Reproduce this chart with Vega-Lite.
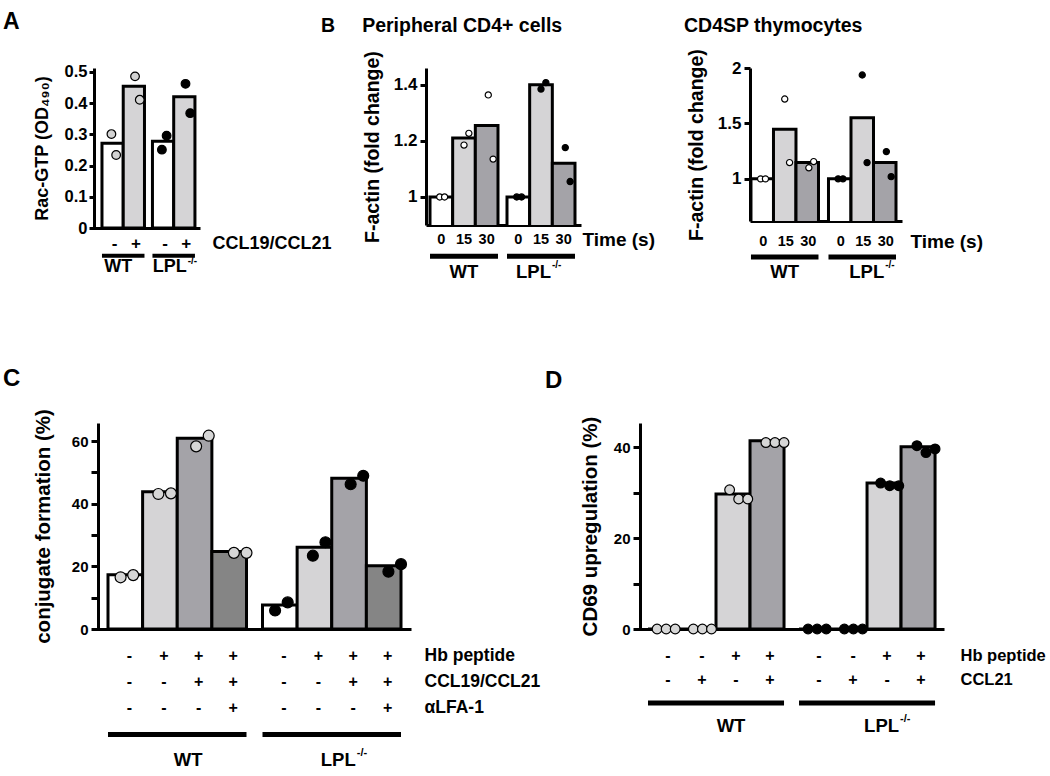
{
  "$schema": "https://vega.github.io/schema/vega-lite/v6.json",
  "background": "white",
  "padding": {"left": 3, "top": 10, "right": 0, "bottom": 0},
  "config": {
    "view": {"stroke": null},
    "font": "Liberation Sans",
    "axis": {"domainColor": "black", "domainWidth": 3, "tickColor": "black", "tickWidth": 3, "labelColor": "black", "labelFont": "Liberation Sans", "labelFontWeight": "bold", "titleFont": "Liberation Sans", "titleFontWeight": "bold", "titleColor": "black", "grid": false},
    "text": {"font": "Liberation Sans", "fontWeight": "bold", "color": "black"},
    "title": {"font": "Liberation Sans", "fontWeight": "bold", "color": "black", "anchor": "start", "frame": "group"}
  },
  "datasets": {
    "A_bars": [
      {"g": "WT", "c": "-", "v": 0.272}, {"g": "WT", "c": "+", "v": 0.454},
      {"g": "LPL", "c": "-", "v": 0.278}, {"g": "LPL", "c": "+", "v": 0.421}
    ],
    "A_pts": [
      {"g": "WT", "k": "-1", "v": 0.301}, {"g": "WT", "k": "-2", "v": 0.234},
      {"g": "WT", "k": "+1", "v": 0.486}, {"g": "WT", "k": "+2", "v": 0.411},
      {"g": "LPL", "k": "-1", "v": 0.251}, {"g": "LPL", "k": "-2", "v": 0.296},
      {"g": "LPL", "k": "+1", "v": 0.462}, {"g": "LPL", "k": "+2", "v": 0.368}
    ],
    "A_ann": [
      {"g": "WT", "c": "-", "row": "CCL19/CCL21", "t": "-"}, {"g": "WT", "c": "+", "row": "CCL19/CCL21", "t": "+"},
      {"g": "LPL", "c": "-", "row": "CCL19/CCL21", "t": "-"}, {"g": "LPL", "c": "+", "row": "CCL19/CCL21", "t": "+"},
      {"g": "WT", "row": "line"}, {"g": "LPL", "row": "line"},
      {"g": "WT", "row": "label", "t": "WT"}, {"g": "LPL", "row": "label", "t": "LPL"}
    ],
    "Bl_bars": [
      {"g": "WT", "c": "0", "v": 1.0}, {"g": "WT", "c": "15", "v": 1.21}, {"g": "WT", "c": "30", "v": 1.255},
      {"g": "LPL", "c": "0", "v": 1.0}, {"g": "LPL", "c": "15", "v": 1.40}, {"g": "LPL", "c": "30", "v": 1.12}
    ],
    "Bl_pts": [
      {"g": "WT", "k": "0_1", "v": 1.0}, {"g": "WT", "k": "0_2", "v": 1.0},
      {"g": "WT", "k": "15_1", "v": 1.185}, {"g": "WT", "k": "15_2", "v": 1.227},
      {"g": "WT", "k": "30_1", "v": 1.364}, {"g": "WT", "k": "30_2", "v": 1.135},
      {"g": "LPL", "k": "0_1", "v": 1.0}, {"g": "LPL", "k": "0_2", "v": 1.0},
      {"g": "LPL", "k": "15_1", "v": 1.385}, {"g": "LPL", "k": "15_2", "v": 1.408},
      {"g": "LPL", "k": "30_1", "v": 1.176}, {"g": "LPL", "k": "30_2", "v": 1.055}
    ],
    "Br_bars": [
      {"g": "WT", "c": "0", "v": 1.0}, {"g": "WT", "c": "15", "v": 1.448}, {"g": "WT", "c": "30", "v": 1.147},
      {"g": "LPL", "c": "0", "v": 1.0}, {"g": "LPL", "c": "15", "v": 1.552}, {"g": "LPL", "c": "30", "v": 1.147}
    ],
    "Br_pts": [
      {"g": "WT", "k": "0_1", "v": 1.0}, {"g": "WT", "k": "0_2", "v": 1.0},
      {"g": "WT", "k": "15_1", "v": 1.72}, {"g": "WT", "k": "15_2", "v": 1.147},
      {"g": "WT", "k": "30_1", "v": 1.10}, {"g": "WT", "k": "30_2", "v": 1.156},
      {"g": "LPL", "k": "0_1", "v": 1.0}, {"g": "LPL", "k": "0_2", "v": 1.0},
      {"g": "LPL", "k": "15_1", "v": 1.937}, {"g": "LPL", "k": "15_2", "v": 1.147},
      {"g": "LPL", "k": "30_1", "v": 1.246}, {"g": "LPL", "k": "30_2", "v": 1.02}
    ],
    "B_ann": [
      {"g": "WT", "c": "0", "row": "Time (s)", "t": "0"}, {"g": "WT", "c": "15", "row": "Time (s)", "t": "15"}, {"g": "WT", "c": "30", "row": "Time (s)", "t": "30"},
      {"g": "LPL", "c": "0", "row": "Time (s)", "t": "0"}, {"g": "LPL", "c": "15", "row": "Time (s)", "t": "15"}, {"g": "LPL", "c": "30", "row": "Time (s)", "t": "30"},
      {"g": "WT", "row": "line"}, {"g": "LPL", "row": "line"},
      {"g": "WT", "row": "label", "t": "WT"}, {"g": "LPL", "row": "label", "t": "LPL"}
    ],
    "C_bars": [
      {"g": "WT", "c": "1", "v": 17.3}, {"g": "WT", "c": "2", "v": 43.8}, {"g": "WT", "c": "3", "v": 60.9}, {"g": "WT", "c": "4", "v": 24.7},
      {"g": "LPL", "c": "1", "v": 7.7}, {"g": "LPL", "c": "2", "v": 26.1}, {"g": "LPL", "c": "3", "v": 48.1}, {"g": "LPL", "c": "4", "v": 20.2}
    ],
    "C_pts": [
      {"g": "WT", "k": "1_1", "v": 16.5}, {"g": "WT", "k": "1_2", "v": 17.2},
      {"g": "WT", "k": "2_1", "v": 43.1}, {"g": "WT", "k": "2_2", "v": 43.3},
      {"g": "WT", "k": "3_1", "v": 58.3}, {"g": "WT", "k": "3_2", "v": 61.7},
      {"g": "WT", "k": "4_1", "v": 24.3}, {"g": "WT", "k": "4_2", "v": 24.3},
      {"g": "LPL", "k": "1_1", "v": 5.9}, {"g": "LPL", "k": "1_2", "v": 8.5},
      {"g": "LPL", "k": "2_1", "v": 23.4}, {"g": "LPL", "k": "2_2", "v": 27.7},
      {"g": "LPL", "k": "3_1", "v": 46.2}, {"g": "LPL", "k": "3_2", "v": 48.9},
      {"g": "LPL", "k": "4_1", "v": 18.3}, {"g": "LPL", "k": "4_2", "v": 20.7}
    ],
    "C_ann": [
      {"g": "WT", "c": "1", "row": "Hb peptide", "t": "-"}, {"g": "WT", "c": "2", "row": "Hb peptide", "t": "+"}, {"g": "WT", "c": "3", "row": "Hb peptide", "t": "+"}, {"g": "WT", "c": "4", "row": "Hb peptide", "t": "+"},
      {"g": "WT", "c": "1", "row": "CCL19/CCL21", "t": "-"}, {"g": "WT", "c": "2", "row": "CCL19/CCL21", "t": "-"}, {"g": "WT", "c": "3", "row": "CCL19/CCL21", "t": "+"}, {"g": "WT", "c": "4", "row": "CCL19/CCL21", "t": "+"},
      {"g": "WT", "c": "1", "row": "αLFA-1", "t": "-"}, {"g": "WT", "c": "2", "row": "αLFA-1", "t": "-"}, {"g": "WT", "c": "3", "row": "αLFA-1", "t": "-"}, {"g": "WT", "c": "4", "row": "αLFA-1", "t": "+"},
      {"g": "LPL", "c": "1", "row": "Hb peptide", "t": "-"}, {"g": "LPL", "c": "2", "row": "Hb peptide", "t": "+"}, {"g": "LPL", "c": "3", "row": "Hb peptide", "t": "+"}, {"g": "LPL", "c": "4", "row": "Hb peptide", "t": "+"},
      {"g": "LPL", "c": "1", "row": "CCL19/CCL21", "t": "-"}, {"g": "LPL", "c": "2", "row": "CCL19/CCL21", "t": "-"}, {"g": "LPL", "c": "3", "row": "CCL19/CCL21", "t": "+"}, {"g": "LPL", "c": "4", "row": "CCL19/CCL21", "t": "+"},
      {"g": "LPL", "c": "1", "row": "αLFA-1", "t": "-"}, {"g": "LPL", "c": "2", "row": "αLFA-1", "t": "-"}, {"g": "LPL", "c": "3", "row": "αLFA-1", "t": "-"}, {"g": "LPL", "c": "4", "row": "αLFA-1", "t": "+"},
      {"g": "WT", "row": "line"}, {"g": "LPL", "row": "line"},
      {"g": "WT", "row": "label", "t": "WT"}, {"g": "LPL", "row": "label", "t": "LPL"}
    ],
    "D_bars": [
      {"g": "WT", "c": "1", "v": 0}, {"g": "WT", "c": "2", "v": 0}, {"g": "WT", "c": "3", "v": 29.7}, {"g": "WT", "c": "4", "v": 41.4},
      {"g": "LPL", "c": "1", "v": 0}, {"g": "LPL", "c": "2", "v": 0}, {"g": "LPL", "c": "3", "v": 32.1}, {"g": "LPL", "c": "4", "v": 40.1}
    ],
    "D_pts": [
      {"g": "WT", "k": "1_1", "v": 0}, {"g": "WT", "k": "1_2", "v": 0}, {"g": "WT", "k": "1_3", "v": 0},
      {"g": "WT", "k": "2_1", "v": 0}, {"g": "WT", "k": "2_2", "v": 0}, {"g": "WT", "k": "2_3", "v": 0},
      {"g": "WT", "k": "3_1", "v": 30.6}, {"g": "WT", "k": "3_2", "v": 28.6}, {"g": "WT", "k": "3_3", "v": 28.6},
      {"g": "WT", "k": "4_1", "v": 41.0}, {"g": "WT", "k": "4_2", "v": 41.0}, {"g": "WT", "k": "4_3", "v": 41.0},
      {"g": "LPL", "k": "1_1", "v": 0}, {"g": "LPL", "k": "1_2", "v": 0}, {"g": "LPL", "k": "1_3", "v": 0},
      {"g": "LPL", "k": "2_1", "v": 0}, {"g": "LPL", "k": "2_2", "v": 0}, {"g": "LPL", "k": "2_3", "v": 0},
      {"g": "LPL", "k": "3_1", "v": 32.1}, {"g": "LPL", "k": "3_2", "v": 31.5}, {"g": "LPL", "k": "3_3", "v": 31.5},
      {"g": "LPL", "k": "4_1", "v": 40.3}, {"g": "LPL", "k": "4_2", "v": 38.8}, {"g": "LPL", "k": "4_3", "v": 39.6}
    ],
    "D_ann": [
      {"g": "WT", "c": "1", "row": "Hb peptide", "t": "-"}, {"g": "WT", "c": "2", "row": "Hb peptide", "t": "-"}, {"g": "WT", "c": "3", "row": "Hb peptide", "t": "+"}, {"g": "WT", "c": "4", "row": "Hb peptide", "t": "+"},
      {"g": "WT", "c": "1", "row": "CCL21", "t": "-"}, {"g": "WT", "c": "2", "row": "CCL21", "t": "+"}, {"g": "WT", "c": "3", "row": "CCL21", "t": "-"}, {"g": "WT", "c": "4", "row": "CCL21", "t": "+"},
      {"g": "LPL", "c": "1", "row": "Hb peptide", "t": "-"}, {"g": "LPL", "c": "2", "row": "Hb peptide", "t": "-"}, {"g": "LPL", "c": "3", "row": "Hb peptide", "t": "+"}, {"g": "LPL", "c": "4", "row": "Hb peptide", "t": "+"},
      {"g": "LPL", "c": "1", "row": "CCL21", "t": "-"}, {"g": "LPL", "c": "2", "row": "CCL21", "t": "+"}, {"g": "LPL", "c": "3", "row": "CCL21", "t": "-"}, {"g": "LPL", "c": "4", "row": "CCL21", "t": "+"},
      {"g": "WT", "row": "line"}, {"g": "LPL", "row": "line"},
      {"g": "WT", "row": "label", "t": "WT"}, {"g": "LPL", "row": "label", "t": "LPL"}
    ]
  },
  "spacing": 73,
  "vconcat": [
    {
      "hconcat": [
        {
          "vconcat": [
            {
              "width": 107, "height": 160,
              "title": {"text": "A", "dx": -90, "offset": 30, "fontSize": 23},
              "encoding": {
                "x": {"field": "g", "type": "nominal", "scale": {"type": "band", "domain": ["WT", "LPL"], "paddingInner": 0.158, "paddingOuter": 0.139, "align": 0.64}, "axis": {"labels": false, "ticks": false, "title": null}},
                "y": {"field": "v", "type": "quantitative", "scale": {"domain": [0, 0.5128], "nice": false}, "axis": {"values": [0, 0.1, 0.2, 0.3, 0.4, 0.5], "format": "~g", "offset": -1, "tickSize": 5, "labelFontSize": 16.5, "labelPadding": 2, "title": "Rac-GTP (OD\u2084\u2089\u2080)", "titleFontSize": 18, "titlePadding": 13}}
              },
              "layer": [
                {"data": {"name": "A_bars"}, "mark": {"type": "bar", "stroke": "black", "strokeWidth": 3},
                 "encoding": {
                   "xOffset": {"field": "c", "type": "nominal", "scale": {"domain": ["-", "+"], "paddingInner": 0, "paddingOuter": 0}},
                   "fill": {"field": "c", "type": "nominal", "scale": {"domain": ["-", "+"], "range": ["#ffffff", "#d5d4d6"]}, "legend": null}
                 }},
                {"data": {"name": "A_pts"}, "mark": {"type": "circle", "size": 75, "opacity": 1, "stroke": "black", "strokeWidth": 1.2},
                 "encoding": {
                   "xOffset": {"field": "k", "type": "nominal", "scale": {"domain": ["-a", "-b", "-1", "-2", "-c", "+a", "+b", "+1", "+2", "+c"], "paddingInner": 0, "paddingOuter": 0}},
                   "fill": {"field": "g", "type": "nominal", "scale": {"domain": ["WT", "LPL"], "range": ["#d3d3d3", "#000000"]}, "legend": null}
                 }}
              ],
              "resolve": {"scale": {"fill": "independent", "xOffset": "independent"}}
            },
            {
              "width": 107, "height": 55.3,
              "data": {"name": "A_ann"},
              "encoding": {
                "x": {"field": "g", "type": "nominal", "scale": {"type": "band", "domain": ["WT", "LPL"], "paddingInner": 0.158, "paddingOuter": 0.139, "align": 0.64}, "axis": null},
                "y": {"field": "row", "type": "nominal", "scale": {"type": "band", "domain": ["CCL19/CCL21", "line", "label"], "paddingInner": 0, "paddingOuter": 0.958}, "axis": {"orient": "right", "domain": false, "ticks": false, "labelFontSize": 18, "labelPadding": 12, "labelExpr": "datum.value == 'line' || datum.value == 'label' ? '' : datum.value", "title": null}}
              },
              "layer": [
                {"transform": [{"filter": "datum.row != 'line' && datum.row != 'label'"}], "mark": {"type": "text", "fontSize": 17, "dx": 2},
                 "encoding": {"xOffset": {"field": "c", "type": "nominal", "scale": {"type": "band", "domain": ["-", "+"], "paddingInner": 0, "paddingOuter": 0}}, "text": {"field": "t"}}},
                {"transform": [{"filter": "datum.row == 'line'"}], "mark": {"type": "bar", "height": 4, "color": "black"}},
                {"transform": [{"filter": "datum.row == 'label' && datum.g == 'WT'"}], "mark": {"type": "text", "fontSize": 18, "dx": -5}, "encoding": {"text": {"field": "t"}}},
                {"transform": [{"filter": "datum.row == 'label' && datum.g == 'LPL'"}], "mark": {"type": "text", "fontSize": 18, "align": "right", "dx": 13}, "encoding": {"text": {"field": "t"}}},
                {"transform": [{"filter": "datum.row == 'label' && datum.g == 'LPL'"}], "mark": {"type": "text", "fontSize": 10, "align": "left", "dx": 14, "dy": -6}, "encoding": {"text": {"value": "-/-"}}}
              ],
              "resolve": {"scale": {"xOffset": "independent"}}
            }
          ],
          "spacing": 0, "bounds": "flush"
        },
        {
          "hconcat": [
            {
              "vconcat": [
                {
                  "width": 155, "height": 157,
                  "title": {"text": "B\u00a0\u00a0\u00a0\u00a0\u00a0Peripheral CD4+ cells", "dx": -105, "offset": 14, "fontSize": 19.5},
                  "encoding": {
                    "x": {"field": "g", "type": "nominal", "scale": {"type": "band", "domain": ["WT", "LPL"], "paddingInner": 0.117, "paddingOuter": 0.065, "align": 0.4}, "axis": {"labels": false, "ticks": false, "title": null}},
                    "y": {"field": "v", "type": "quantitative", "scale": {"domain": [0.9, 1.46], "nice": false, "zero": false}, "axis": {"values": [1, 1.2, 1.4], "format": "~g", "tickSize": 6, "labelFontSize": 17, "labelPadding": 3, "title": "F-actin (fold change)", "titleFontSize": 19.5, "titlePadding": 11}}
                  },
                  "layer": [
                    {"data": {"name": "Bl_bars"}, "mark": {"type": "bar", "stroke": "black", "strokeWidth": 3, "clip": true},
                     "encoding": {
                       "xOffset": {"field": "c", "type": "nominal", "scale": {"domain": ["0", "15", "30"], "paddingInner": 0, "paddingOuter": 0}},
                       "fill": {"field": "c", "type": "nominal", "scale": {"domain": ["0", "15", "30"], "range": ["#ffffff", "#d5d4d6", "#a4a3a8"]}, "legend": null}
                     }},
                    {"data": {"name": "Bl_pts"}, "mark": {"type": "circle", "size": 38, "opacity": 1, "stroke": "black", "strokeWidth": 1.2},
                     "encoding": {
                       "xOffset": {"field": "k", "type": "nominal", "scale": {"domain": ["0_a", "0_b", "0_1", "0_2", "0_c", "15_a", "15_b", "15_1", "15_2", "15_c", "30_a", "30_b", "30_1", "30_2", "30_c"], "paddingInner": 0, "paddingOuter": 0}},
                       "fill": {"field": "g", "type": "nominal", "scale": {"domain": ["WT", "LPL"], "range": ["#ffffff", "#000000"]}, "legend": null}
                     }}
                  ],
                  "resolve": {"scale": {"fill": "independent", "xOffset": "independent"}}
                },
                {
                  "width": 155, "height": 62.6,
                  "data": {"name": "B_ann"},
                  "encoding": {
                    "x": {"field": "g", "type": "nominal", "scale": {"type": "band", "domain": ["WT", "LPL"], "paddingInner": 0.117, "paddingOuter": 0.065, "align": 0.4}, "axis": null},
                    "y": {"field": "row", "type": "nominal", "scale": {"type": "band", "domain": ["Time (s)", "line", "label"], "paddingInner": 0, "paddingOuter": 0.456}, "axis": {"orient": "right", "domain": false, "ticks": false, "labelFontSize": 19, "labelPadding": 1, "labelExpr": "datum.value == 'line' || datum.value == 'label' ? '' : datum.value", "title": null}}
                  },
                  "layer": [
                    {"transform": [{"filter": "datum.row != 'line' && datum.row != 'label'"}], "mark": {"type": "text", "fontSize": 14.5},
                     "encoding": {"xOffset": {"field": "c", "type": "nominal", "scale": {"type": "band", "domain": ["0", "15", "30"], "paddingInner": 0, "paddingOuter": 0}}, "text": {"field": "t"}}},
                    {"transform": [{"filter": "datum.row == 'line'"}], "mark": {"type": "bar", "height": 5, "color": "black"}},
                    {"transform": [{"filter": "datum.row == 'label' && datum.g == 'WT'"}], "mark": {"type": "text", "fontSize": 18.5}, "encoding": {"text": {"field": "t"}}},
                    {"transform": [{"filter": "datum.row == 'label' && datum.g == 'LPL'"}], "mark": {"type": "text", "fontSize": 18.5, "align": "right", "dx": 10}, "encoding": {"text": {"field": "t"}}},
                    {"transform": [{"filter": "datum.row == 'label' && datum.g == 'LPL'"}], "mark": {"type": "text", "fontSize": 10, "align": "left", "dx": 11, "dy": -7}, "encoding": {"text": {"value": "-/-"}}}
                  ],
                  "resolve": {"scale": {"xOffset": "independent"}}
                }
              ],
              "spacing": 0, "bounds": "flush"
            },
            {
              "vconcat": [
                {
                  "width": 152, "height": 153,
                  "title": {"text": "CD4SP thymocytes", "dx": -66, "offset": 12, "fontSize": 19.5},
                  "encoding": {
                    "x": {"field": "g", "type": "nominal", "scale": {"type": "band", "domain": ["WT", "LPL"], "paddingInner": 0.129, "paddingOuter": 0.045, "align": 0.14}, "axis": {"labels": false, "ticks": false, "title": null}},
                    "y": {"field": "v", "type": "quantitative", "scale": {"domain": [0.62, 2.0], "nice": false, "zero": false}, "axis": {"values": [1, 1.5, 2], "format": "~g", "tickSize": 6, "labelFontSize": 17, "labelPadding": 3, "title": "F-actin (fold change)", "titleFontSize": 19.5, "titlePadding": 11}}
                  },
                  "layer": [
                    {"data": {"name": "Br_bars"}, "mark": {"type": "bar", "stroke": "black", "strokeWidth": 3, "clip": true},
                     "encoding": {
                       "xOffset": {"field": "c", "type": "nominal", "scale": {"domain": ["0", "15", "30"], "paddingInner": 0, "paddingOuter": 0}},
                       "fill": {"field": "c", "type": "nominal", "scale": {"domain": ["0", "15", "30"], "range": ["#ffffff", "#d5d4d6", "#a4a3a8"]}, "legend": null}
                     }},
                    {"data": {"name": "Br_pts"}, "mark": {"type": "circle", "size": 38, "opacity": 1, "stroke": "black", "strokeWidth": 1.2},
                     "encoding": {
                       "xOffset": {"field": "k", "type": "nominal", "scale": {"domain": ["0_a", "0_b", "0_1", "0_2", "0_c", "15_a", "15_b", "15_1", "15_2", "15_c", "30_a", "30_b", "30_1", "30_2", "30_c"], "paddingInner": 0, "paddingOuter": 0}},
                       "fill": {"field": "g", "type": "nominal", "scale": {"domain": ["WT", "LPL"], "range": ["#ffffff", "#000000"]}, "legend": null}
                     }}
                  ],
                  "resolve": {"scale": {"fill": "independent", "xOffset": "independent"}}
                },
                {
                  "width": 152, "height": 72,
                  "data": {"name": "B_ann"},
                  "encoding": {
                    "x": {"field": "g", "type": "nominal", "scale": {"type": "band", "domain": ["WT", "LPL"], "paddingInner": 0.129, "paddingOuter": 0.045, "align": 0.14}, "axis": null},
                    "y": {"field": "row", "type": "nominal", "scale": {"type": "band", "domain": ["Time (s)", "line", "label"], "paddingInner": 0, "paddingOuter": 0.823}, "axis": {"orient": "right", "domain": false, "ticks": false, "labelFontSize": 19, "labelPadding": 8, "labelExpr": "datum.value == 'line' || datum.value == 'label' ? '' : datum.value", "title": null}}
                  },
                  "layer": [
                    {"transform": [{"filter": "datum.row != 'line' && datum.row != 'label'"}], "mark": {"type": "text", "fontSize": 14.5, "dx": 1},
                     "encoding": {"xOffset": {"field": "c", "type": "nominal", "scale": {"type": "band", "domain": ["0", "15", "30"], "paddingInner": 0, "paddingOuter": 0}}, "text": {"field": "t"}}},
                    {"transform": [{"filter": "datum.row == 'line'"}], "mark": {"type": "bar", "height": 5, "color": "black"}},
                    {"transform": [{"filter": "datum.row == 'label' && datum.g == 'WT'"}], "mark": {"type": "text", "fontSize": 18.5}, "encoding": {"text": {"field": "t"}}},
                    {"transform": [{"filter": "datum.row == 'label' && datum.g == 'LPL'"}], "mark": {"type": "text", "fontSize": 18.5, "align": "right", "dx": 22}, "encoding": {"text": {"field": "t"}}},
                    {"transform": [{"filter": "datum.row == 'label' && datum.g == 'LPL'"}], "mark": {"type": "text", "fontSize": 10, "align": "left", "dx": 23, "dy": -7}, "encoding": {"text": {"value": "-/-"}}}
                  ],
                  "resolve": {"scale": {"xOffset": "independent"}}
                }
              ],
              "spacing": 0, "bounds": "flush"
            }
          ],
          "spacing": 29
        }
      ],
      "spacing": -11
    },
    {
      "hconcat": [
        {
          "vconcat": [
            {
              "width": 318, "height": 206,
              "title": {"text": "C", "dx": -90, "offset": 18, "fontSize": 24},
              "encoding": {
                "x": {"field": "g", "type": "nominal", "scale": {"type": "band", "domain": ["WT", "LPL"], "paddingInner": 0.1036, "paddingOuter": 0.0809, "align": 0.6}, "axis": {"labels": false, "ticks": false, "title": null}},
                "y": {"field": "v", "type": "quantitative", "scale": {"domain": [0, 65.75], "nice": false}, "axis": {"values": [0, 10, 20, 30, 40, 50, 60], "labelExpr": "datum.value % 20 == 0 ? datum.label : ''", "offset": -5, "tickSize": 7, "labelFontSize": 15, "labelPadding": 3, "title": "conjugate formation (%)", "titleFontSize": 20.5, "titlePadding": 18}}
              },
              "layer": [
                {"data": {"name": "C_bars"}, "mark": {"type": "bar", "stroke": "black", "strokeWidth": 3},
                 "encoding": {
                   "xOffset": {"field": "c", "type": "nominal", "scale": {"domain": ["1", "2", "3", "4"], "paddingInner": 0, "paddingOuter": 0}},
                   "fill": {"field": "c", "type": "nominal", "scale": {"domain": ["1", "2", "3", "4"], "range": ["#ffffff", "#d5d4d6", "#a4a3a8", "#858585"]}, "legend": null}
                 }},
                {"data": {"name": "C_pts"}, "mark": {"type": "circle", "size": 120, "opacity": 1, "stroke": "black", "strokeWidth": 1.2},
                 "encoding": {
                   "xOffset": {"field": "k", "type": "nominal", "scale": {"domain": ["1_x", "1_1", "1_2", "2_x", "2_1", "2_2", "3_x", "3_1", "3_2", "4_x", "4_1", "4_2"], "paddingInner": 0, "paddingOuter": 0}},
                   "fill": {"field": "g", "type": "nominal", "scale": {"domain": ["WT", "LPL"], "range": ["#d6d6d6", "#000000"]}, "legend": null}
                 }}
              ],
              "resolve": {"scale": {"fill": "independent", "xOffset": "independent"}}
            },
            {
              "width": 318, "height": 158.8,
              "data": {"name": "C_ann"},
              "encoding": {
                "x": {"field": "g", "type": "nominal", "scale": {"type": "band", "domain": ["WT", "LPL"], "paddingInner": 0.1036, "paddingOuter": 0.0809, "align": 0.6}, "axis": null},
                "y": {"field": "row", "type": "nominal", "scale": {"type": "band", "domain": ["Hb peptide", "CCL19/CCL21", "αLFA-1", "line", "label"], "paddingInner": 0, "paddingOuter": 0.554}, "axis": {"orient": "right", "domain": false, "ticks": false, "labelFontSize": 17.5, "labelPadding": 13, "labelExpr": "datum.value == 'line' || datum.value == 'label' ? '' : datum.value", "title": null}}
              },
              "layer": [
                {"transform": [{"filter": "datum.row != 'line' && datum.row != 'label'"}], "mark": {"type": "text", "fontSize": 16, "dx": 4},
                 "encoding": {"xOffset": {"field": "c", "type": "nominal", "scale": {"type": "band", "domain": ["1", "2", "3", "4"], "paddingInner": 0, "paddingOuter": 0}}, "text": {"field": "t"}}},
                {"transform": [{"filter": "datum.row == 'line'"}], "mark": {"type": "bar", "height": 5, "color": "black"}},
                {"transform": [{"filter": "datum.row == 'label' && datum.g == 'WT'"}], "mark": {"type": "text", "fontSize": 18.5, "dx": 11}, "encoding": {"text": {"field": "t"}}},
                {"transform": [{"filter": "datum.row == 'label' && datum.g == 'LPL'"}], "mark": {"type": "text", "fontSize": 18.5, "align": "right", "dx": 24}, "encoding": {"text": {"field": "t"}}},
                {"transform": [{"filter": "datum.row == 'label' && datum.g == 'LPL'"}], "mark": {"type": "text", "fontSize": 11, "align": "left", "dx": 25, "dy": -7}, "encoding": {"text": {"value": "-/-"}}}
              ],
              "resolve": {"scale": {"xOffset": "independent"}}
            }
          ],
          "spacing": 0, "bounds": "flush"
        },
        {
          "vconcat": [
            {
              "width": 310, "height": 206,
              "title": {"text": "D", "dx": -89, "offset": 23, "fontSize": 24},
              "encoding": {
                "x": {"field": "g", "type": "nominal", "scale": {"type": "band", "domain": ["WT", "LPL"], "paddingInner": 0.0993, "paddingOuter": 0.076, "align": 0.61}, "axis": {"labels": false, "ticks": false, "title": null}},
                "y": {"field": "v", "type": "quantitative", "scale": {"domain": [0, 45.3], "nice": false}, "axis": {"values": [0, 10, 20, 30, 40], "labelExpr": "datum.value % 20 == 0 ? datum.label : ''", "offset": -6, "tickSize": 7, "labelFontSize": 15, "labelPadding": 3, "title": "CD69 upregulation (%)", "titleFontSize": 20.5, "titlePadding": 13}}
              },
              "layer": [
                {"data": {"name": "D_bars"}, "mark": {"type": "bar", "stroke": "black", "strokeWidth": 3},
                 "encoding": {
                   "xOffset": {"field": "c", "type": "nominal", "scale": {"domain": ["1", "2", "3", "4"], "paddingInner": 0, "paddingOuter": 0}},
                   "fill": {"field": "c", "type": "nominal", "scale": {"domain": ["1", "2", "3", "4"], "range": ["#ffffff", "#ffffff", "#d5d4d6", "#a4a3a8"]}, "legend": null}
                 }},
                {"data": {"name": "D_pts"}, "mark": {"type": "circle", "size": 95, "opacity": 1, "stroke": "black", "strokeWidth": 1.2},
                 "encoding": {
                   "xOffset": {"field": "k", "type": "nominal", "scale": {"domain": ["1_x", "1_1", "1_2", "1_3", "2_x", "2_1", "2_2", "2_3", "3_x", "3_1", "3_2", "3_3", "4_x", "4_1", "4_2", "4_3"], "paddingInner": 0, "paddingOuter": 0}},
                   "fill": {"field": "g", "type": "nominal", "scale": {"domain": ["WT", "LPL"], "range": ["#d6d6d6", "#000000"]}, "legend": null}
                 }}
              ],
              "resolve": {"scale": {"fill": "independent", "xOffset": "independent"}}
            },
            {
              "width": 310, "height": 124.5,
              "data": {"name": "D_ann"},
              "encoding": {
                "x": {"field": "g", "type": "nominal", "scale": {"type": "band", "domain": ["WT", "LPL"], "paddingInner": 0.0993, "paddingOuter": 0.076, "align": 0.61}, "axis": null},
                "y": {"field": "row", "type": "nominal", "scale": {"type": "band", "domain": ["Hb peptide", "CCL21", "line", "label"], "paddingInner": 0, "paddingOuter": 0.649}, "axis": {"orient": "right", "domain": false, "ticks": false, "labelFontSize": 16.5, "labelPadding": 16, "labelExpr": "datum.value == 'line' || datum.value == 'label' ? '' : datum.value", "title": null}}
              },
              "layer": [
                {"transform": [{"filter": "datum.row != 'line' && datum.row != 'label'"}], "mark": {"type": "text", "fontSize": 16, "dx": 3},
                 "encoding": {"xOffset": {"field": "c", "type": "nominal", "scale": {"type": "band", "domain": ["1", "2", "3", "4"], "paddingInner": 0, "paddingOuter": 0}}, "text": {"field": "t"}}},
                {"transform": [{"filter": "datum.row == 'line'"}], "mark": {"type": "bar", "height": 5, "color": "black"}},
                {"transform": [{"filter": "datum.row == 'label' && datum.g == 'WT'"}], "mark": {"type": "text", "fontSize": 18.5, "dx": 15}, "encoding": {"text": {"field": "t"}}},
                {"transform": [{"filter": "datum.row == 'label' && datum.g == 'LPL'"}], "mark": {"type": "text", "fontSize": 18.5, "align": "right", "dx": 32}, "encoding": {"text": {"field": "t"}}},
                {"transform": [{"filter": "datum.row == 'label' && datum.g == 'LPL'"}], "mark": {"type": "text", "fontSize": 11, "align": "left", "dx": 33, "dy": -7}, "encoding": {"text": {"value": "-/-"}}}
              ],
              "resolve": {"scale": {"xOffset": "independent"}}
            }
          ],
          "spacing": 0, "bounds": "flush"
        }
      ],
      "spacing": 5
    }
  ]
}
